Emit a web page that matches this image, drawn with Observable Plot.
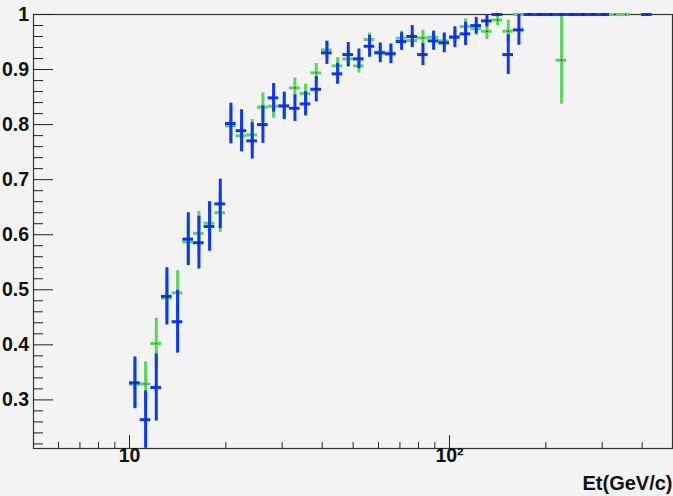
<!DOCTYPE html>
<html><head><meta charset="utf-8">
<script src="https://cdn.jsdelivr.net/npm/d3@7"></script>
<script src="https://cdn.jsdelivr.net/npm/@observablehq/plot@0.6"></script>
<style>html,body{margin:0;padding:0;background:#f3f3f3;overflow:hidden;}</style>
</head><body><div id="chart"></div>
<script>
// Bin edges in Et (GeV/c), log-spaced
const binEdges = [10, 10.8, 11.66, 12.59, 13.59, 14.68, 15.85, 17.11, 18.48, 19.95,
  21.54, 23.26, 25.12, 27.12, 29.29, 31.62, 34.15, 36.87, 39.81, 42.99,
  46.42, 50.12, 54.12, 58.43, 63.1, 68.13, 73.56, 79.43, 85.77, 92.61,
  100, 107.98, 116.59, 125.89, 135.94, 146.78, 158.49, 171.13, 184.78, 199.53,
  215.44, 232.63, 251.19, 271.23, 292.86, 316.23, 341.45, 368.69, 398.11, 429.87];

// Blue series (efficiency and error per bin; null = empty bin)
const blueY = [0.331, 0.264, 0.3225, 0.488, 0.442, 0.592, 0.5855, 0.615, 0.656, 0.802,
  0.789, 0.7705, 0.800, 0.8486, 0.834, 0.8297, 0.8377, 0.8642, 0.9303, 0.8922,
  0.9272, 0.9194, 0.9423, 0.9303, 0.9285, 0.9509, 0.960, 0.9272, 0.9521, 0.9485,
  0.9587, 0.9648, 0.9799, 0.9884, 1.0, 0.9272, 0.972, 1.0, 1.0, 1.0,
  1.0, 1.0, 1.0, 1.0, 1.0, null, null, null, 1.0];
const blueErr = [0.047, 0.052, 0.061, 0.052, 0.057, 0.048, 0.048, 0.045, 0.045, 0.037,
  0.038, 0.033, 0.034, 0.026, 0.025, 0.024, 0.022, 0.023, 0.021, 0.019,
  0.022, 0.018, 0.020, 0.018, 0.018, 0.016, 0.020, 0.020, 0.017, 0.018,
  0.019, 0.021, 0.015, 0.011, 0, 0.036, 0.028, 0, 0, 0,
  0, 0, 0, 0, 0, 0, 0, 0, 0];

// Green series
const greenY = [0.3285, 0.329, 0.4024, 0.485, 0.4945, 0.587, 0.6025, 0.621, 0.640, 0.7977,
  0.7796, 0.7814, 0.8316, 0.8334, 0.8333, 0.8667, 0.8564, 0.894, 0.9358, 0.9067,
  0.9194, 0.9067, 0.9545, 0.932, 0.930, 0.957, 0.9527, 0.9576, 0.9587, 0.952,
  0.960, 0.978, 0.974, 0.9696, 0.990, 0.9696, 1.0, 1.0, 1.0, 1.0,
  0.917, 1.0, 1.0, 1.0, 1.0, 1.0, 1.0, null, null];
const greenErr = [0.040, 0.040, 0.046, 0.040, 0.040, 0.040, 0.040, 0.038, 0.036, 0.030,
  0.030, 0.028, 0.026, 0.022, 0.022, 0.018, 0.017, 0.017, 0.016, 0.015,
  0.015, 0.013, 0.012, 0.013, 0.013, 0.013, 0.013, 0.014, 0.012, 0.012,
  0.012, 0.014, 0.012, 0.015, 0.010, 0.020, 0, 0, 0, 0,
  0.080, 0, 0, 0, 0, 0, 0, 0, 0];

const xMajorTicks = [10, 100];
const xMinorTicks = [6, 7, 8, 9, 20, 30, 40, 50, 60, 70, 80, 90, 200, 300, 400];
const yMajorTicks = [0.3, 0.4, 0.5, 0.6, 0.7, 0.8, 0.9, 1.0];
const yMinorTicks = d3.range(11, 50).filter(i => i % 5 !== 0).map(i => i * 0.02);

const BLUE = "#0d37ff";
const GREEN = "#5bd45b";

function rows(ys, errs) {
  return ys.map((y, i) => y == null ? null : {
    x: (binEdges[i] + binEdges[i + 1]) / 2,
    xlo: binEdges[i], xhi: binEdges[i + 1],
    y, lo: y - errs[i], hi: y + errs[i], e: errs[i]
  }).filter(Boolean);
}
const blue = rows(blueY, blueErr);
const green = rows(greenY, greenErr);

function series(data, color) {
  return [
    Plot.ruleY(data, {y: "y", x1: "xlo", x2: "xhi", stroke: color, strokeWidth: 3}),
    Plot.ruleX(data.filter(d => d.e > 0), {x: "x", y1: "lo", y2: "hi", stroke: color, strokeWidth: 3}),
    Plot.dot(data, {x: "x", y: "y", r: 0.7, fill: "#000", stroke: null})
  ];
}

const chart = Plot.plot({
  width: 673,
  height: 496,
  marginLeft: 33,
  marginRight: 1,
  marginTop: 14,
  marginBottom: 48,
  x: {type: "log", domain: [5.012, 497.7]},
  y: {domain: [0.2117, 1.0]},
  style: {
    background: "#f3f3f3",
    fontFamily: "'Liberation Sans', Arial, Helvetica, sans-serif",
    fontSize: "19.5px",
    fontWeight: "bold",
    color: "#111"
  },
  marks: [
    Plot.frame({stroke: "#333", strokeWidth: 1.2}),
    Plot.axisX(xMinorTicks, {anchor: "bottom", tickSize: -6, fill: "none", label: null, stroke: "#222"}),
    Plot.axisX(xMajorTicks, {anchor: "bottom", tickSize: -13, tickPadding: 12.5, label: null, stroke: "#222",
      tickFormat: d => d === 10 ? "10" : "10\u00B2"}),
    Plot.axisY(yMinorTicks, {anchor: "left", tickSize: -10, fill: "none", label: null, stroke: "#222"}),
    Plot.axisY(yMajorTicks, {anchor: "left", tickSize: -20, tickPadding: 24.5, label: null, stroke: "#222",
      tickFormat: d => d === 1 ? "1" : d.toFixed(1)}),
    ...series(green, GREEN),
    ...series(blue, BLUE),
    Plot.text(["Et(GeV/c)"], {frameAnchor: "bottom-right", dy: 35, dx: 0, textAnchor: "end",
      lineAnchor: "middle", fontSize: 20, fontWeight: "bold", fill: "#111"})
  ]
});
document.getElementById("chart").appendChild(chart);
</script>
</body></html>
